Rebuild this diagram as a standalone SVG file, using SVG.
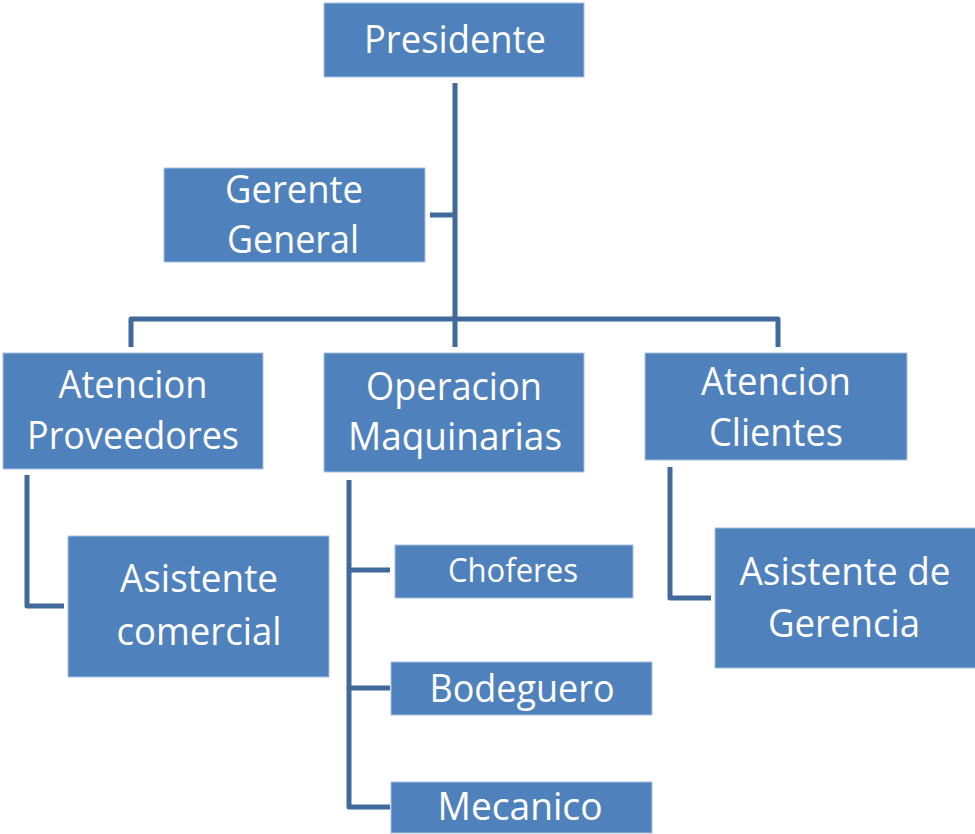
<svg xmlns="http://www.w3.org/2000/svg" width="975" height="834" viewBox="0 0 975 834">
<style>
.box{fill:#4F81BD;stroke:#A9C1DF;stroke-width:1}
.t{fill:#fff;font-family:"Open Sans","Noto Sans",sans-serif;font-size:39px;text-anchor:middle}
.s{font-size:33px}
.c{fill:none;stroke:#41699A;stroke-width:5;stroke-linejoin:round}
</style>
<rect width="975" height="834" fill="#fff"/>
<g id="connectors">
<path class="c" d="M455 83V347"/>
<path class="c" d="M430 215H455"/>
<path class="c" d="M131 347V319H778V347"/>
<path class="c" d="M27 475V606H64"/>
<path class="c" d="M349 480V807H390M349 570H390M349 688H390"/>
<path class="c" d="M670 467V598H711"/>
</g>
<g id="presidente"><rect class="box" x="324" y="3" width="260" height="74"/><text class="t" x="455" y="53" textLength="182" lengthAdjust="spacingAndGlyphs">Presidente</text></g>
<g id="gerente-general"><rect class="box" x="164" y="168" width="261" height="94"/><text class="t" x="294" y="203" textLength="138" lengthAdjust="spacingAndGlyphs">Gerente</text><text class="t" x="293" y="253" textLength="132" lengthAdjust="spacingAndGlyphs">General</text></g>
<g id="atencion-proveedores"><rect class="box" x="3" y="353" width="260" height="116"/><text class="t" x="133" y="398" textLength="149" lengthAdjust="spacingAndGlyphs">Atencion</text><text class="t" x="133" y="449" textLength="212" lengthAdjust="spacingAndGlyphs">Proveedores</text></g>
<g id="operacion-maquinarias"><rect class="box" x="324" y="353" width="260" height="119"/><text class="t" x="454" y="400" textLength="176" lengthAdjust="spacingAndGlyphs">Operacion</text><text class="t" x="455" y="450" textLength="214" lengthAdjust="spacingAndGlyphs">Maquinarias</text></g>
<g id="atencion-clientes"><rect class="box" x="645" y="353" width="262" height="107"/><text class="t" x="776" y="395" textLength="150" lengthAdjust="spacingAndGlyphs">Atencion</text><text class="t" x="776" y="446" textLength="134" lengthAdjust="spacingAndGlyphs">Clientes</text></g>
<g id="asistente-comercial"><rect class="box" x="68" y="536" width="261" height="141"/><text class="t" x="199" y="592" textLength="158" lengthAdjust="spacingAndGlyphs">Asistente</text><text class="t" x="199" y="645" textLength="165" lengthAdjust="spacingAndGlyphs">comercial</text></g>
<g id="asistente-gerencia"><rect class="box" x="715" y="528" width="262" height="140"/><text class="t" x="845" y="585" textLength="211" lengthAdjust="spacingAndGlyphs">Asistente de</text><text class="t" x="844" y="637" textLength="152" lengthAdjust="spacingAndGlyphs">Gerencia</text></g>
<g id="choferes"><rect class="box" x="395" y="545" width="238" height="53"/><text class="t s" x="513" y="582" textLength="130" lengthAdjust="spacingAndGlyphs">Choferes</text></g>
<g id="bodeguero"><rect class="box" x="391" y="662" width="261" height="53"/><text class="t" x="522" y="702" textLength="185" lengthAdjust="spacingAndGlyphs">Bodeguero</text></g>
<g id="mecanico"><rect class="box" x="391" y="782" width="261" height="51"/><text class="t" x="520" y="820" textLength="165" lengthAdjust="spacingAndGlyphs">Mecanico</text></g>
</svg>
